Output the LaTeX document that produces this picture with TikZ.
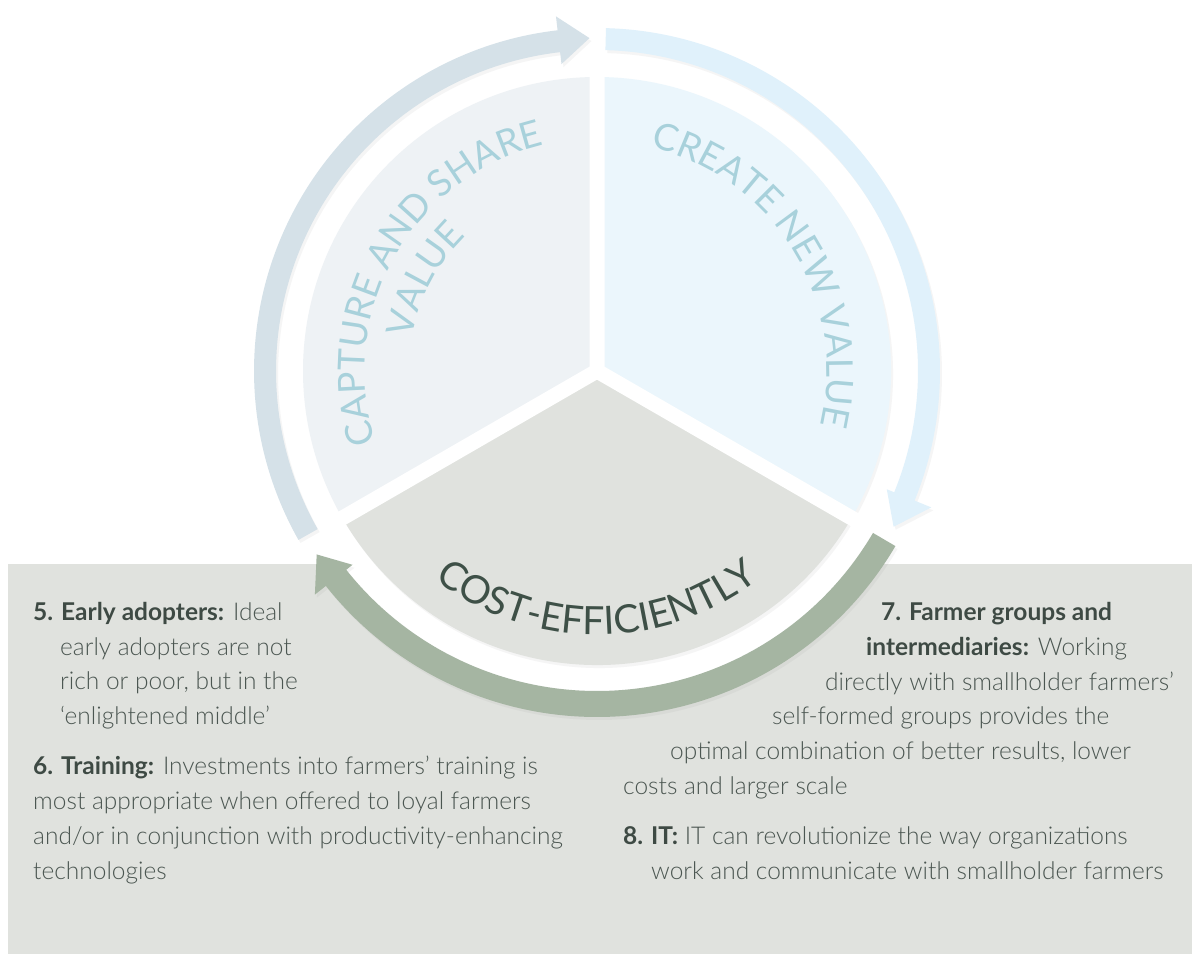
\documentclass[tikz,border=0pt]{standalone}
\usepackage{fontspec}
\setmainfont{Lato}[UprightFont=* Light, BoldFont=* Bold]
\newfontfamily\regfont{Lato}
\usetikzlibrary{decorations.text,shadows}
\definecolor{panel}{HTML}{E0E2DE}
\definecolor{leftsec}{HTML}{EEF2F5}
\definecolor{rightsec}{HTML}{EBF6FC}
\definecolor{botsec}{HTML}{E0E2DE}
\definecolor{leftarrow}{HTML}{D5E1E8}
\definecolor{rightarrow}{HTML}{E0F1FB}
\definecolor{greenarrow}{HTML}{A5B5A2}
\definecolor{captext}{HTML}{A8D1DB}
\definecolor{costtext}{HTML}{3E5047}
\definecolor{bodytext}{HTML}{4B5651}
\definecolor{boldtext}{HTML}{3E4A44}
\newcommand\capfmt{\regfont\fontsize{37}{37}\selectfont\color{captext}}
\newcommand\costfmt{\regfont\fontsize{39}{39}\selectfont\color{costtext}}
\newcommand\bt[1]{{\bfseries\color{boldtext}#1}}
\begin{document}
\begin{tikzpicture}[x=1pt,y=1pt,
  body/.style={anchor=base west, inner sep=0pt, font=\fontsize{24.5}{28}\selectfont, text=bodytext},
  shad/.style={drop shadow={opacity=0.08, shadow xshift=2pt, shadow yshift=-3pt}}]
\path[use as bounding box] (0,0) rectangle (1192,-954);
\fill[white] (0,0) rectangle (1192,-954);
\fill[panel] (8,-564) rectangle (1192,-954);
\coordinate (O) at (597,-371);
\begin{scope}[shift={(O)}]
  \fill[white] (0,0) circle (321);
  % sectors
  \fill[leftsec, shad] (0,0) -- (90:294) arc[start angle=90, end angle=210, radius=294] -- cycle;
  \fill[rightsec, shad] (0,0) -- (-30:294) arc[start angle=-30, end angle=90, radius=294] -- cycle;
  \fill[botsec, shad] (0,0) -- (210:294) arc[start angle=210, end angle=330, radius=294] -- cycle;
  \draw[white, line width=15pt, line cap=round] (0,0) -- (90:300) (0,0) -- (210:300) (0,0) -- (330:300);
  % arrows
  \fill[leftarrow, shad] (209.5:343) arc[start angle=209.5, end angle=96.6, radius=343] -- (96.6:357) -- (91.3:333) -- (96.6:309) -- (96.6:321) arc[start angle=96.6, end angle=209.5, radius=321] -- cycle;
  \fill[rightarrow, shad] (88.5:343) arc[start angle=88.5, end angle=-22.2, radius=343] -- (-22.2:361) -- (-27.7:335) -- (-22.2:313) -- (-22.2:321) arc[start angle=-22.2, end angle=88.5, radius=321] -- cycle;
  \fill[greenarrow, shad] (-30.4:346) arc[start angle=-30.4, end angle=-141.6, radius=346] -- (-141.6:360) -- (-146.8:335) -- (-141.6:312) -- (-141.6:320) arc[start angle=-141.6, end angle=-30.4, radius=320] -- cycle;
  % curved texts
  \path[decorate, decoration={text along path, text={|\capfmt|CAPTURE AND SHARE}, text align=center}]
    (205.5:232) arc[start angle=205.5, end angle=95.5, radius=232];
  \path[decorate, decoration={text along path, text={|\capfmt|VALUE}, text align=center}]
    (188:188) arc[start angle=188, end angle=116, radius=188];
  \path[decorate, decoration={text along path, text={|\capfmt|CREATE NEW VALUE}, text align=center}]
    (84:230) arc[start angle=84, end angle=-21, radius=230];
  \path[decorate, decoration={text along path, text={|\costfmt|COST-EFFICIENTLY}, text align=center}]
    (220:264) arc[start angle=220, end angle=320, radius=264];
\end{scope}
% left text block
\node[body] (l1) at (33,-620) {\bt{5. Early adopters:} Ideal};
\node[body] (l2) at (60,-655) {early adopters are not};
\node[body] (l3) at (60,-689) {rich or poor, but in the};
\node[body] (l4) at (60,-724) {‘enlightened middle’};
\node[body] (l5) at (33,-774) {\bt{6. Training:} Investments into farmers’ training is};
\node[body] (l6) at (33,-809) {most appropriate when offered to loyal farmers};
\node[body] (l7) at (33,-844) {and/or in conjunction with productivity-enhancing};
\node[body] (l8) at (33,-879) {technologies};
% right text block
\node[body] (r1) at (881,-620) {\bt{7. Farmer groups and}};
\node[body] (r2) at (866,-655) {\bt{intermediaries:} Working};
\node[body] (r3) at (825,-690) {directly with smallholder farmers’};
\node[body] (r4) at (772,-724) {self-formed groups provides the};
\node[body] (r5) at (670,-759) {optimal combination of better results, lower};
\node[body] (r6) at (623,-794) {costs and larger scale};
\node[body] (r7) at (623,-844) {\bt{8. IT:} IT can revolutionize the way organizations};
\node[body] (r8) at (651,-879) {work and communicate with smallholder farmers};
\end{tikzpicture}
\end{document}
